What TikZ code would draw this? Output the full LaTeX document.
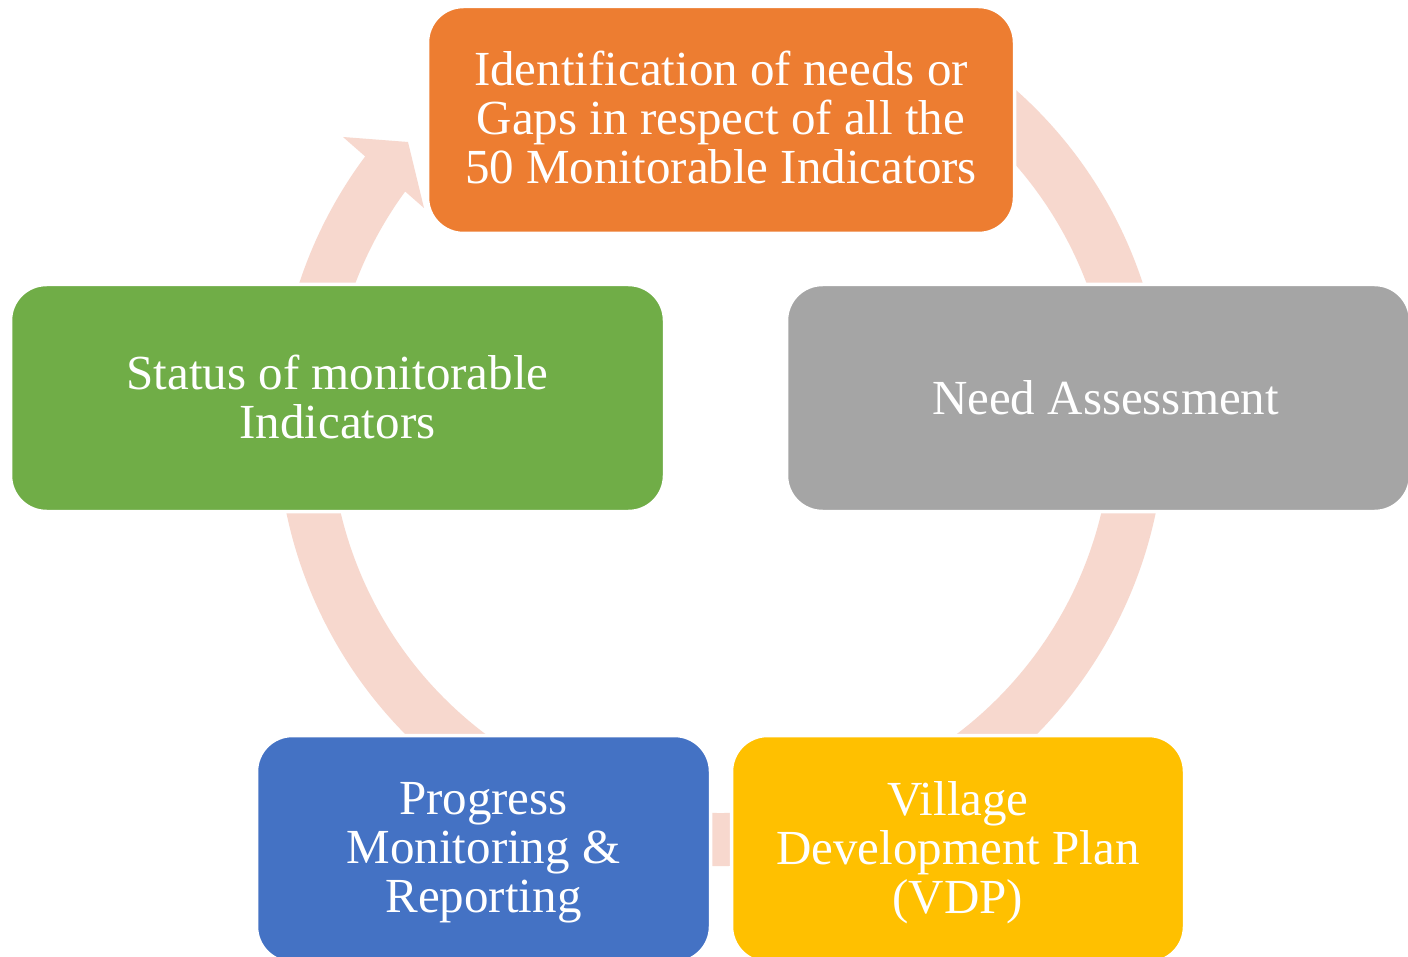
\documentclass[tikz,border=0pt]{standalone}
\usepackage{fontspec}
\setmainfont{Liberation Serif}
\definecolor{cOrange}{HTML}{ED7D31}
\definecolor{cGray}{HTML}{A5A5A5}
\definecolor{cGreen}{HTML}{70AD47}
\definecolor{cBlue}{HTML}{4472C4}
\definecolor{cYellow}{HTML}{FFC000}
\definecolor{ringpink}{HTML}{F7D8CE}
\begin{document}
\begin{tikzpicture}[x=1pt,y=-1pt,
  box/.style={rectangle, rounded corners=36pt, draw=white, line width=3.5pt,
    inner sep=0pt, minimum height=227pt},
  boxtext/.style={inner sep=0pt, text=white, align=center,
    font=\fontsize{49}{49}\selectfont},
  ringfill/.style={fill=ringpink}]
\fill[white] (0,0) rectangle (1408,957);
\useasboundingbox (0,0) rectangle (1408,957);
% cycle ring (behind the boxes)
\coordinate (ctr) at (721,422);
\begin{scope}[shift={(ctr)}]
  \fill[ringfill] (60:444pt) arc[start angle=60,end angle=-218,radius=444pt]
    -- (-218:391pt) arc[start angle=-218,end angle=60,radius=391pt] -- cycle;
\end{scope}
\coordinate (barbout) at (343,137);
\coordinate (tip) at (408,142);
\coordinate (barbin) at (424,208);
\fill[ringfill] (barbout) -- (tip) -- (barbin) -- cycle;
% boxes
\node[box, fill=cOrange, minimum width=587pt] (ident) at (721,120) {};
\node[box, fill=cGray, minimum width=624pt] (need) at (1098.5,398) {};
\node[box, fill=cGreen, minimum width=654pt] (status) at (337.5,398) {};
\node[box, fill=cBlue, minimum width=454pt] (prog) at (483.5,849) {};
\node[box, fill=cYellow, minimum width=453pt] (vdp) at (958,849) {};
% texts
\node[boxtext] (identT) at ([yshift=3pt]ident.center)
  {Identification of needs or\\Gaps in respect of all the\\50 Monitorable Indicators};
\node[boxtext] (needT) at ([xshift=7pt]need.center) {Need Assessment};
\node[boxtext] (statusT) at ([yshift=1pt]status.center) {Status of monitorable\\Indicators};
\node[boxtext] (progT) at ([yshift=-4pt]prog.center) {Progress\\Monitoring \&\\Reporting};
\node[boxtext] (vdpT) at ([yshift=-4pt]vdp.center) {Village\\Development Plan\\(VDP)};
\end{tikzpicture}
\end{document}
